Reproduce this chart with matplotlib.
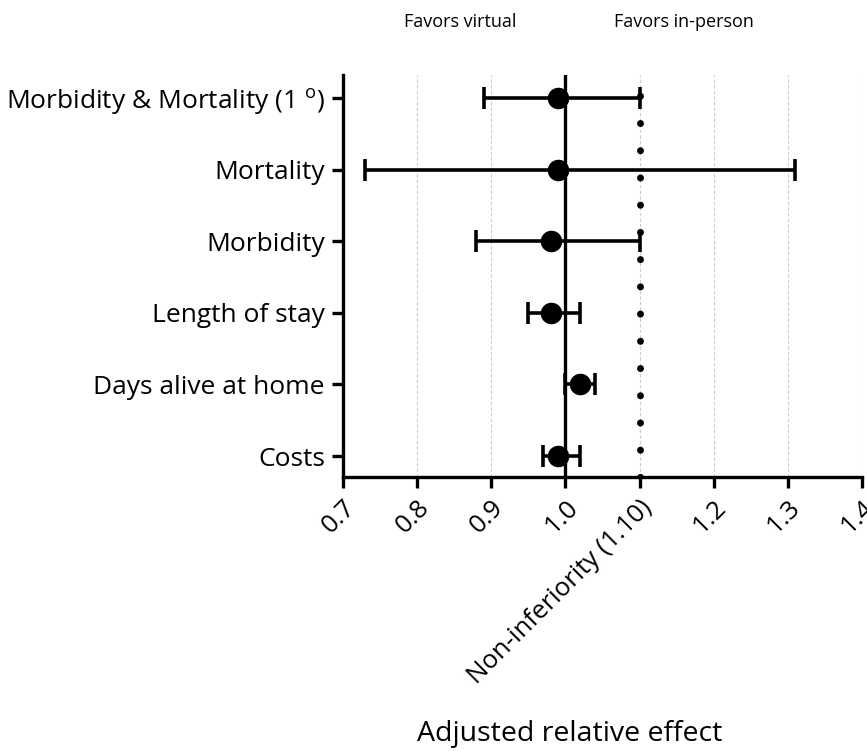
import matplotlib.pyplot as plt

plt.rcParams['font.family'] = ['Open Sans', 'DejaVu Sans']

# Outcomes, top to bottom
outcomes = ['Morbidity & Mortality (1 $^{\\mathregular{o}}$)', 'Mortality', 'Morbidity',
            'Length of stay', 'Days alive at home', 'Costs']
estimate = [0.99, 0.99, 0.98, 0.98, 1.02, 0.99]
ci_low = [0.89, 0.73, 0.88, 0.95, 1.00, 0.97]
ci_high = [1.10, 1.31, 1.10, 1.02, 1.04, 1.02]

x_ticks = [0.7, 0.8, 0.9, 1.0, 1.1, 1.2, 1.3, 1.4]
x_tick_labels = ['0.7', '0.8', '0.9', '1.0', 'Non-inferiority (1.10)', '1.2', '1.3', '1.4']
margin = 1.10

fig = plt.figure(figsize=(8.67, 7.51), dpi=100)
ax = fig.add_axes([0.3956, 0.3648, 0.5986, 0.5353])

n = len(outcomes)
ypos = list(range(n, 0, -1))

# grid lines
for t in x_ticks:
    ax.axvline(t, color='#cccccc', lw=0.8, ls=(0, (3, 2)), zorder=0)

# reference lines
ax.axvline(1.0, color='black', lw=2.4, zorder=2)
ax.axvline(margin, color='black', lw=5, ls=(0, (0.02, 3.9)),
           dash_capstyle='round', zorder=2)

xerr = [[e - lo for e, lo in zip(estimate, ci_low)],
        [hi - e for e, hi in zip(estimate, ci_high)]]
ax.errorbar(estimate, ypos, xerr=xerr, fmt='o', color='black', ms=14.5,
            elinewidth=2.6, capsize=8, capthick=2.6, zorder=3)

ax.set_xlim(0.7, 1.4)
ax.set_ylim(0.707, n + 0.32)
ax.set_yticks(ypos)
ax.set_yticklabels(outcomes, fontsize=19)
ax.set_xticks(x_ticks)
ax.set_xticklabels(x_tick_labels, fontsize=18.5, rotation=45, ha='right',
                   rotation_mode='anchor')

for side in ['top', 'right']:
    ax.spines[side].set_visible(False)
for side in ['left', 'bottom']:
    ax.spines[side].set_linewidth(2.4)
ax.tick_params(axis='both', width=2.4, length=8, pad=5)

ax.set_xlabel('Adjusted relative effect', fontsize=20.5)
ax.xaxis.set_label_coords(0.437, -0.605)

fig.text(460 / 867, 1 - 22 / 751, 'Favors virtual', ha='center', va='center', fontsize=13)
fig.text(684 / 867, 1 - 22 / 751, 'Favors in-person', ha='center', va='center', fontsize=13)

fig.savefig('out.png', dpi=100)
